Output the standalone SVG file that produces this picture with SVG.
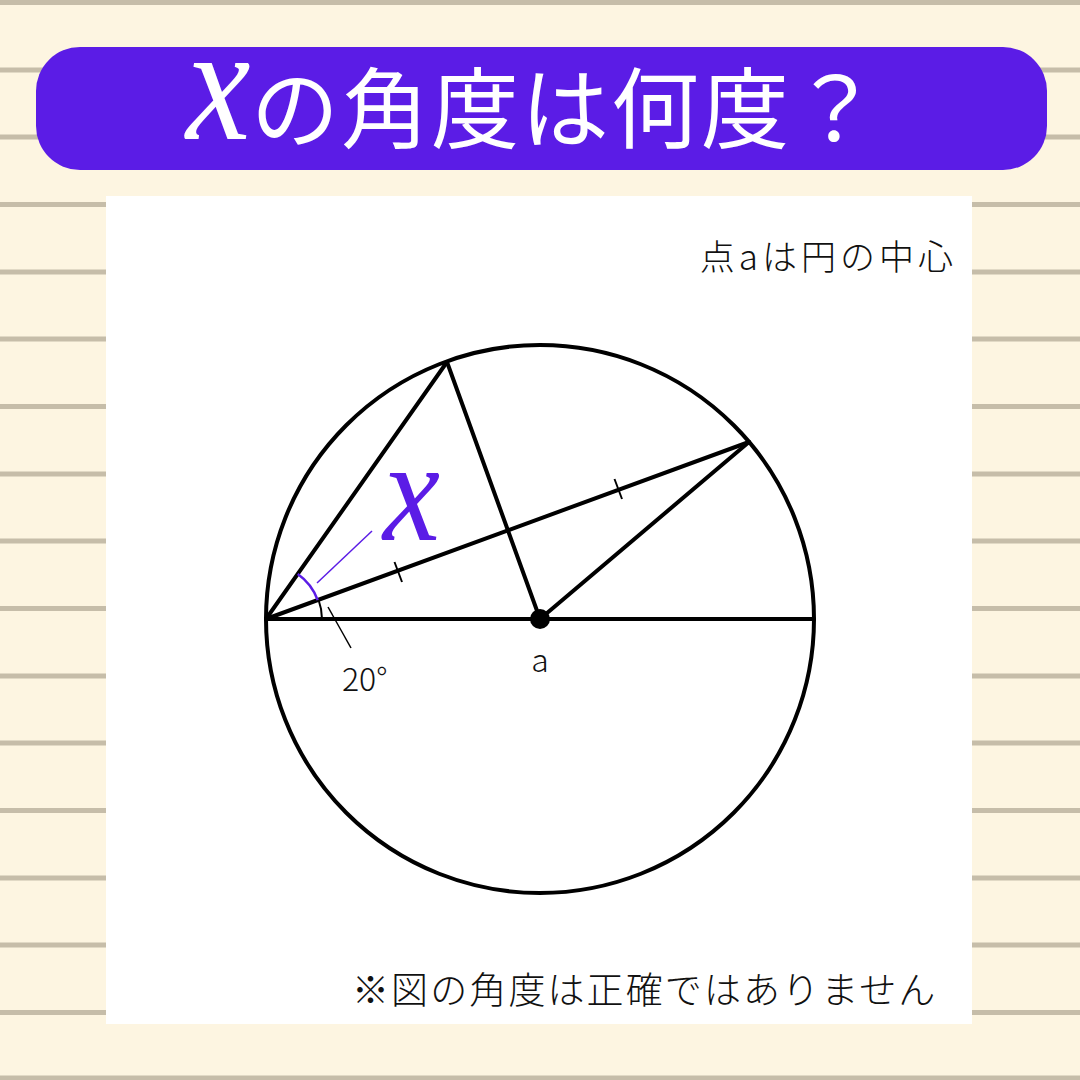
<svg xmlns="http://www.w3.org/2000/svg" width="1080" height="1080" viewBox="0 0 1080 1080">
<defs>
<style>
.stripe{stroke:#c6bda9;stroke-width:5}
.ln{stroke:#000;stroke-width:4;fill:none;stroke-linecap:round}
.thin{stroke:#000;stroke-width:1.5;fill:none}
.tick{stroke:#000;stroke-width:2;fill:none}
.jp{font-family:"Noto Sans CJK JP","Noto Sans",sans-serif;font-weight:300;fill:#111}
.title{font-family:"Noto Sans CJK JP","Noto Sans",sans-serif;font-weight:400;fill:#fff}
.vx{font-family:"Liberation Serif","DejaVu Serif",serif;font-style:italic}
</style>
</defs>
<g id="background">
<rect x="0" y="0" width="1080" height="1080" fill="#fdf5e1"/>
<g id="stripes">
<line class="stripe" x1="0" y1="2.5" x2="1080" y2="2.5"/>
<line class="stripe" x1="0" y1="70" x2="1080" y2="70"/>
<line class="stripe" x1="0" y1="137" x2="1080" y2="137"/>
<line class="stripe" x1="0" y1="204.5" x2="1080" y2="204.5"/>
<line class="stripe" x1="0" y1="272" x2="1080" y2="272"/>
<line class="stripe" x1="0" y1="339" x2="1080" y2="339"/>
<line class="stripe" x1="0" y1="406.5" x2="1080" y2="406.5"/>
<line class="stripe" x1="0" y1="474" x2="1080" y2="474"/>
<line class="stripe" x1="0" y1="541" x2="1080" y2="541"/>
<line class="stripe" x1="0" y1="608.5" x2="1080" y2="608.5"/>
<line class="stripe" x1="0" y1="676" x2="1080" y2="676"/>
<line class="stripe" x1="0" y1="743" x2="1080" y2="743"/>
<line class="stripe" x1="0" y1="810.5" x2="1080" y2="810.5"/>
<line class="stripe" x1="0" y1="878" x2="1080" y2="878"/>
<line class="stripe" x1="0" y1="945" x2="1080" y2="945"/>
<line class="stripe" x1="0" y1="1012.5" x2="1080" y2="1012.5"/>
<line class="stripe" x1="0" y1="1078" x2="1080" y2="1078"/>
</g>
</g>
<g id="title">
<rect x="36" y="47" width="1011" height="123" rx="44" ry="44" fill="#5b1ce6"/>
<text class="vx" transform="translate(186,139) scale(0.88,1)" x="0" y="0" font-size="165" fill="#fff">x</text>
<text class="title" x="251" y="141" font-size="88" letter-spacing="2">の角度は何度？</text>
</g>
<g id="panel">
<rect x="106" y="196" width="866" height="828" fill="#fff"/>
</g>
<g id="note-top">
<text class="jp" x="957" y="270" font-size="35" letter-spacing="4" text-anchor="end">点aは円の中心</text>
</g>
<g id="circle">
<circle cx="540" cy="619" r="274" class="ln" stroke-width="3.5"/>
</g>
<g id="connectors">
<line class="ln" x1="266" y1="619" x2="814" y2="619"/>
<line class="ln" x1="266" y1="619" x2="447" y2="362"/>
<line class="ln" x1="447" y1="362" x2="540" y2="619"/>
<line class="ln" x1="266" y1="619" x2="749" y2="442"/>
<line class="ln" x1="540" y1="619" x2="749" y2="442"/>
<line class="tick" x1="394.5" y1="562" x2="402" y2="582"/>
<line class="tick" x1="614.5" y1="479" x2="622" y2="499"/>
<path d="M297.7,574.0 A55,55 0 0 1 317.7,600.1" fill="none" stroke="#5b1ce6" stroke-width="2.5"/>
<path d="M318.6,600.0 A56,56 0 0 1 322,619" fill="none" stroke="#000" stroke-width="2"/>
<line x1="317" y1="583" x2="372" y2="531" stroke="#5b1ce6" stroke-width="1.5"/>
<line class="thin" x1="328" y1="607" x2="351" y2="648"/>
</g>
<g id="center-a">
<circle cx="540" cy="619" r="10" fill="#000"/>
<text class="jp" x="540" y="672" font-size="32" text-anchor="middle">a</text>
</g>
<g id="label-x">
<text class="vx" transform="translate(383,540) scale(0.88,1)" x="0" y="0" font-size="146" fill="#5b1ce6">x</text>
</g>
<g id="label-20">
<text class="jp" x="342" y="691" font-size="32">20°</text>
</g>
<g id="note-bottom">
<text class="jp" x="352" y="1004" font-size="37" letter-spacing="2.1">※図の角度は正確ではありません</text>
</g>
</svg>
